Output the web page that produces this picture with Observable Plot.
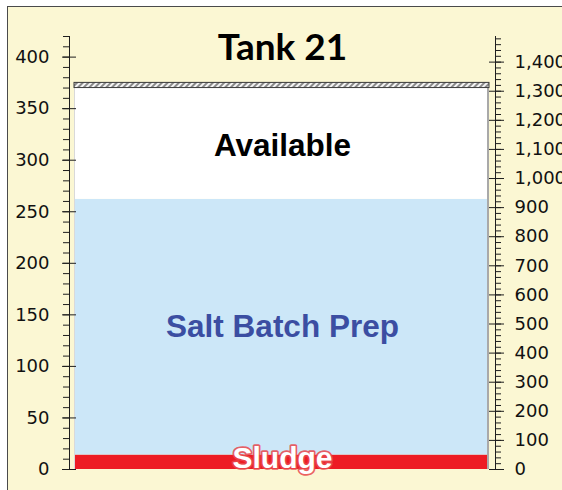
<!DOCTYPE html>
<html>
<head>
<meta charset="utf-8">
<script src="https://cdn.jsdelivr.net/npm/d3@7"></script>
<script src="https://cdn.jsdelivr.net/npm/@observablehq/plot@0.6"></script>
<style>
  html, body { margin: 0; padding: 0; background: #fff; }
  #wrap { position: relative; width: 562px; height: 490px; overflow: hidden; }
  #bg { position: absolute; left: 7px; top: 6px; right: 0; bottom: 0; background: #FBF7D3;
        border-left: 1.5px solid #4a4a4a; border-top: 1.5px solid #4a4a4a; }
  #chart { position: absolute; left: 0; top: 0; }
</style>
</head>
<body>
<div id="wrap"><div id="bg"></div><div id="chart"></div></div>
<script>
// ---- data ----
const title = "Tank 21";
const zones = ["Sludge", "Salt Batch Prep", "Available"];
const zoneBottom = [0, 14, 262];   // inches
const zoneTop = [14, 262, 370];
const capBottom = 370, capTop = 375;
const leftTicks = [0, 50, 100, 150, 200, 250, 300, 350, 400];
const leftMinor = d3.range(0, 421, 10);
const rightTicks = [0, 100, 200, 300, 400, 500, 600, 700, 800, 900, 1000, 1100, 1200, 1300, 1400];
const rightMinor = d3.range(0, 1481, 20);
const kgalPerInch = 3.543;

// ---- layout ----
const W = 562, H = 490, mL = 69, mR = 67, mT = 36, mB = 21;
const frameW = W - mL - mR;
const tankInsetL = 5, tankInsetR = 6;
const zoneColors = ["#ED1C24", "#CCE7F8", "#FFFFFF"];
const fmt = d3.format(",");
const axisColor = "#1e1e1e";
const tickFont = 18;

const plot = Plot.plot({
  width: W, height: H,
  marginLeft: mL, marginRight: mR, marginTop: mT, marginBottom: mB,
  style: { background: "transparent", fontFamily: "DejaVu Sans", fontSize: "18px", color: "#111" },
  y: { domain: [0, 420], axis: null },
  color: { domain: zones, range: zoneColors },
  marks: [
    // tank zones
    Plot.rect(zones, { y1: (d, i) => zoneBottom[i], y2: (d, i) => zoneTop[i], fill: d => d,
      insetLeft: tankInsetL, insetRight: tankInsetR }),
    // left edge light line
    Plot.rect([0], { y1: zoneBottom[0], y2: capBottom, fill: "#d9d9d9",
      insetLeft: tankInsetL, insetRight: frameW - tankInsetL - 1 }),
    // right edge shadow
    Plot.rect([0], { y1: zoneBottom[0], y2: capBottom, fill: "#a9a9a9",
      insetLeft: frameW - tankInsetR - 2, insetRight: tankInsetR }),
    // hatched cap
    Plot.rect([0], { y1: capBottom, y2: capTop, fill: "url(#hatch)", stroke: "#3a3a3a", strokeWidth: 1,
      insetLeft: tankInsetL, insetRight: tankInsetR }),
    // axis lines
    Plot.frame({ anchor: "left", stroke: axisColor }),
    Plot.frame({ anchor: "right", stroke: axisColor }),
    // left axis
    Plot.axisY(leftMinor, { anchor: "left", tickSize: 6, tickFormat: () => "", stroke: axisColor, label: null }),
    Plot.axisY(leftTicks, { anchor: "left", tickSize: 14, dx: 7, tickFormat: () => "", stroke: axisColor, label: null }),
    Plot.axisY(leftTicks, { anchor: "left", tickSize: 0, tickPadding: 20, fill: "#111", fontSize: tickFont, label: null }),
    // right axis
    Plot.axisY(rightMinor.map(v => v / kgalPerInch), { anchor: "right", tickSize: 5, tickFormat: () => "", stroke: axisColor, label: null }),
    Plot.axisY(rightTicks.map(v => v / kgalPerInch), { anchor: "right", tickSize: 15, dx: -7, tickFormat: () => "", stroke: axisColor, label: null }),
    Plot.axisY(rightTicks.map(v => v / kgalPerInch), { anchor: "right", tickSize: 0, tickPadding: 19, fill: "#111", fontSize: tickFont,
      tickFormat: d => fmt(Math.round(d * kgalPerInch)), label: null }),
    // title
    Plot.text([title], { text: d => d, frameAnchor: "top", lineAnchor: "middle", dy: 12, fontFamily: "Lato", fontWeight: 700, fontSize: 37, fill: "#000" }),
    // zone labels
    Plot.text([zones[2]], { text: d => d, y: (zoneBottom[2] + zoneTop[2]) / 2, dy: 2, fontFamily: "Liberation Sans", fontWeight: 700, fontSize: 31.5, fill: "#000" }),
    Plot.text([zones[1]], { text: d => d, y: (zoneBottom[1] + zoneTop[1]) / 2, fontFamily: "Liberation Sans", fontWeight: 700, fontSize: 31.5, fill: "#3B4EA2" }),
    Plot.text([zones[0]], { text: d => d, y: (zoneBottom[0] + zoneTop[0]) / 2, dy: -4, fontFamily: "Liberation Sans", fontWeight: 700, fontSize: 30,
      fill: "#fff", stroke: "#E9484D", strokeWidth: 3.5, strokeOpacity: 0.85, paintOrder: "stroke" })
  ]
});

// hatch pattern
const svg = d3.select(plot);
const defs = svg.insert("defs", ":first-child");
const pat = defs.append("pattern").attr("id", "hatch").attr("patternUnits", "userSpaceOnUse")
  .attr("width", 4).attr("height", 4).attr("patternTransform", "rotate(45)");
pat.append("rect").attr("width", 4).attr("height", 4).attr("fill", "#f4f4f4");
pat.append("rect").attr("width", 2).attr("height", 4).attr("fill", "#8a8a8a");

document.getElementById("chart").appendChild(plot);
</script>
</body>
</html>
